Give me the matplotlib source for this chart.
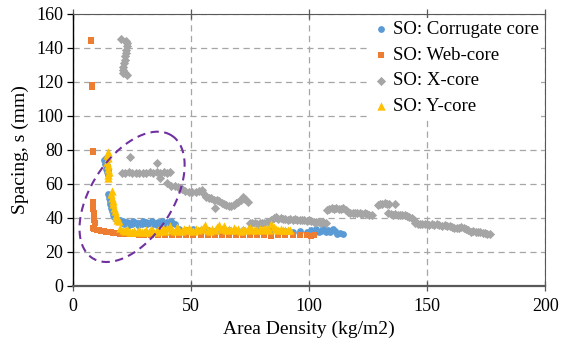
import numpy as np
import matplotlib
matplotlib.use("Agg")
import matplotlib.pyplot as plt

plt.rcParams['font.family'] = ['Liberation Serif', 'DejaVu Serif']

# ---------------- data ----------------
corr_x = [13.8, 14.0, 14.2, 14.0, 14.3, 14.6, 14.2, 13.6, 13.2, 14.8,
          15.0, 15.3, 15.5, 15.8, 16.2, 16.6, 17.0, 17.4,
          18, 19, 20, 21, 22, 23, 24, 25, 26, 27, 28, 29, 30, 31, 32, 33, 34, 35,
          36, 37, 38, 39, 40, 41, 42, 43,
          19.5, 21.5, 23.5, 25.5, 27.5, 29.5, 31.5, 33.5, 35.5, 37.5, 39.5, 41.5,
          45, 48, 51, 54, 57, 60, 63, 66, 69, 72, 75, 78, 81, 84, 87, 90, 93, 96,
          99, 101, 103, 105, 107, 109, 111, 113, 114.5, 112, 104, 108, 110, 102, 106]
corr_y = [75, 73, 71, 69, 67, 65, 70, 72, 74, 68,
          54, 52, 50, 48, 46, 44, 42, 40.5,
          39.5, 39, 38.5, 38, 37.5, 37.8, 37, 36.5, 37.5, 36.8, 37.2, 36.5, 37, 37.5,
          36.8, 37.2, 36.5, 37, 37.5, 36.8, 37.2, 37, 37.5, 37, 37.3, 36.5,
          38, 36.5, 36, 38, 36, 38, 36.2, 38.2, 36, 38, 36.3, 38,
          33.5, 33, 33.2, 32.8, 33, 32.5, 33, 32.8, 32.5, 33, 32.6, 32.8, 32.4, 32.6,
          32.2, 32.5, 32, 32.4, 32, 33, 33.5, 32.5, 32, 31.5, 32.5, 31, 30.5, 30.5,
          31.5, 33, 33.2, 31, 33.8]

web_x = [7.5, 7.8, 8.2, 8.0, 8.3, 8.5, 8.3, 8.5, 8.5, 8.7, 8.8, 9.0, 9.1,
         8.5, 9, 10, 11, 12, 13, 14, 15, 16, 17, 18, 19, 20, 22, 24, 26, 28, 30,
         33, 36, 39, 42, 45, 48, 51, 54, 57, 60, 63, 66, 69, 72, 75, 78, 81, 84,
         87, 90, 93, 96, 99, 101, 102]
web_y = [144.5, 143.8, 118, 117, 79.5, 78.5, 49.5, 47.5, 45, 43, 41, 39, 37,
         34, 33.5, 33, 32.8, 32.5, 32.3, 32, 31.8, 31.6, 31.4, 31.2, 31.0, 30.8, 30.6,
         30.5, 30.3, 30.2, 30.0, 29.9, 30.0, 29.8, 29.9, 29.7, 29.9, 29.8, 30.0, 29.7,
         29.9, 29.8, 29.7, 29.9, 29.8, 29.7, 29.9, 29.8, 29.6, 29.8, 29.7, 29.9, 29.7,
         29.8, 29.6, 29.8]

x_x = [20.5, 22.5, 23.0, 22.8, 22.5, 22.3, 22.0, 21.8, 21.5, 21.2, 21.0, 21.3, 22.0, 23.0,
       24.2, 35.5, 20.6, 22, 23.5, 25, 26.5, 28, 29.5, 31, 32.5, 34, 35.5, 37, 38.5, 40, 41,
       36.9, 40, 41.5, 43, 44.5, 46, 47.5, 49, 50.5, 52, 53.5, 54.5, 55.5, 56.5, 57.5,
       58.5, 59.5, 60, 61, 62, 63, 64, 65, 66, 67, 68, 69, 70, 71, 72, 73, 74,
       75, 76, 77, 78, 79, 80, 81, 82, 83, 84, 85, 86, 87, 88, 89, 90, 91, 92, 93, 94,
       95, 96, 97, 98, 99, 100, 101, 102, 103, 104, 105, 106, 107,
       107.5, 108.5, 109.5, 110.5, 111.5, 112.5, 113.5, 114.5, 115.5, 116.5, 117.5,
       118.5, 119.5, 120.5, 121.5, 122.5, 123.5, 124.5, 125.5, 126.5,
       129, 130, 131, 132, 133, 134, 136.5,
       133.5, 134.5, 135.5, 136.5, 137.5, 138.5, 139.5, 140.5, 141.5, 142.5, 143.5, 144.5,
       145, 146, 147, 148, 149, 150, 151, 152, 153, 154, 155, 156.5, 157.5, 158.5,
       159.5, 160.5, 161.5, 162.5, 163.5, 164.5, 165.5, 166.5, 167.5, 168.5, 169.5,
       170.5, 171.5, 172.5, 173.5, 174.5, 175.5, 176.5]
x_y = [145.5, 144, 143, 141, 139, 137, 135, 133, 131, 129, 127, 125.5, 125, 124,
       76, 72.2, 66.5, 66.5, 66.8, 66.3, 66.6, 66.5, 66.7, 66.4, 66.8, 66.5, 66.9, 66.4,
       66.8, 66.5, 67,
       63.3, 60.5, 59, 58.5, 58, 57, 56, 55.5, 55, 55.5, 56, 56.5, 54, 52.5, 51.5,
       52, 50.5, 45.7, 50.5, 49.8, 49, 48.3, 47.5, 47, 47.3, 47.8, 48.5, 49.5, 50.5,
       52.5, 51, 49.6,
       37, 36.8, 37.2, 36.7, 37, 37.3, 37, 37.5, 37.8, 38.5, 40, 40.5, 39.5, 39.8, 39.2,
       39.5, 39, 39.3, 38.8, 39.1, 38.6, 38.9, 38.5, 38.8, 38.3, 38.5, 38, 37.8, 37.5,
       37.8, 37.2, 37.5, 37,
       44.8, 45.5, 45.8, 45.4, 45.9, 45.5, 45.2, 45.6, 44.8, 43.5, 43, 42.8, 43.1, 42.6,
       42.9, 42.4, 42.7, 42.2, 41.8, 41.5,
       47.5, 48, 48.2, 48.5, 48.3, 48, 48.2,
       43, 42.5, 42, 42.3, 41.8, 42, 41.5, 41.8, 41.2, 40.5, 39.8, 39,
       37, 36.5, 36.3, 36.6, 36.2, 36.5, 36.1, 36.4, 36, 36.3, 36, 35.5, 36, 35,
       35.3, 34.7, 34.2, 33.8, 34.3, 34.6, 34.1, 33.5, 32.8, 31.5, 32.2, 31.8, 32,
       31.5, 31, 31.2, 30.8, 30.5]

y_x = [14.8, 14.5, 14.8, 14.3, 15.0, 14.6, 15.2, 14.8, 15.0,
       16.4, 16.2, 16.5, 16.8, 17.0, 17.3, 17.6, 18.0, 18.4, 18.8, 19.5,
       20, 21, 22, 23, 24, 25, 26, 27, 28, 29, 30, 31, 32, 33, 34, 35, 36, 37, 38,
       39, 40, 41, 42, 43, 44, 45, 46, 47, 48, 49, 50, 51, 52, 53, 54, 55, 56, 57,
       58, 59, 60, 61, 62, 63, 64, 65, 66, 67, 68, 69, 70, 71, 72, 73, 74, 75, 76,
       77, 78, 79, 80, 81, 82, 83, 84, 85, 86, 87, 88, 89, 90, 91, 92]
y_y = [79, 77, 75, 73, 71, 69, 67, 65, 63.5,
       56, 54, 52, 50, 48, 46, 44, 42, 40.5, 39, 38,
       34, 33, 32.5, 33.2, 32, 31.5, 32.5, 31.8, 33, 32, 31.5, 32.8, 32, 33.5, 32.2,
       31.8, 33, 32.4, 34, 32.5, 33.8, 35.5, 33, 32.2, 34.5, 33, 32.4, 33.6, 32.8, 34.2,
       33, 32.5, 33.5, 32.6, 33.2, 34, 35.8, 33, 32.4, 33.6, 32.8, 34.5, 35.6, 33.2,
       35, 32.8, 33.4, 32.6, 33.8, 32.9, 33.3, 32.5, 33.7, 32.8, 33.2, 34, 32.6, 33.4,
       32.9, 33.6, 32.7, 33.3, 34.1, 33, 36.2, 34.5, 33.2, 32.7, 33.5, 32.8, 33.1,
       32.6, 32.9]

labels = ["SO: Corrugate core", "SO: Web-core", "SO: X-core", "SO: Y-core"]
colors = ["#5B9BD5", "#ED7D31", "#A5A5A5", "#FFC000"]
x_ticks = [0, 50, 100, 150, 200]
y_ticks = [0, 20, 40, 60, 80, 100, 120, 140, 160]

# ---------------- figure ----------------
W, H, DPI = 5.62, 3.47, 100
fig = plt.figure(figsize=(W, H), dpi=DPI)
ax = fig.add_axes([0.130, 0.176, 0.840, 0.784])
ax.set_xlim(0, 200)
ax.set_ylim(0, 160)

ax.scatter(corr_x, corr_y, s=24, marker='o', color=colors[0], label=labels[0],
           linewidths=0, zorder=3)
ax.scatter(web_x, web_y, s=24, marker='s', color=colors[1], label=labels[1],
           linewidths=0, zorder=3)
ax.scatter(x_x, x_y, s=22, marker='D', color=colors[2], label=labels[2],
           linewidths=0, zorder=3)
ax.scatter(y_x, y_y, s=36, marker='^', color=colors[3], label=labels[3],
           linewidths=0, zorder=3)

ax.set_xticks(x_ticks)
ax.set_yticks(y_ticks)
ax.grid(True, color='#A6A6A6', linestyle=(0, (5, 3.5)), linewidth=0.9, zorder=0)
ax.set_axisbelow(True)

for side in ['top', 'right']:
    ax.spines[side].set_color('#595959')
    ax.spines[side].set_linewidth(0.8)
ax.spines['left'].set_color('black')
ax.spines['left'].set_linewidth(1.0)
ax.spines['bottom'].set_color('#595959')
ax.spines['bottom'].set_linewidth(1.6)

ax.tick_params(axis='y', direction='out', length=4, width=0.9, labelsize=13, pad=3)
ax.tick_params(axis='x', direction='inout', length=7, width=0.9, labelsize=13, pad=5,
               color='#595959', top=True)

ax.set_xlabel("Area Density (kg/m2)", fontsize=14, labelpad=4)
ax.set_ylabel("Spacing, s (mm)", fontsize=14, labelpad=5)

# ---------------- dashed ellipse (drawn in pixel-space geometry) ----------------
ax_w_px = 0.840 * W * DPI
ax_h_px = 0.784 * H * DPI
sx = ax_w_px / 200.0
sy = ax_h_px / 160.0
cx, cy = 25.0, 52.4          # centre in data units
a_px, b_px, ang = 73.0, 41.0, np.deg2rad(57)
t = np.linspace(0, 2 * np.pi, 400)
ox = a_px * np.cos(t) * np.cos(ang) - b_px * np.sin(t) * np.sin(ang)
oy = a_px * np.cos(t) * np.sin(ang) + b_px * np.sin(t) * np.cos(ang)
ax.plot(cx + ox / sx, cy + oy / sy, color='#7030A0', linewidth=1.5,
        linestyle=(0, (4, 2.6)), zorder=4)

leg = ax.legend(loc='upper right', bbox_to_anchor=(1.0, 1.0), fontsize=13.5,
                frameon=True, framealpha=1.0, edgecolor='none', facecolor='white',
                handletextpad=0.15, handlelength=0.9, labelspacing=0.47,
                borderpad=0.15, borderaxespad=0.2, markerscale=1.0)
leg.get_frame().set_linewidth(0)

fig.savefig("out.png", dpi=DPI)
